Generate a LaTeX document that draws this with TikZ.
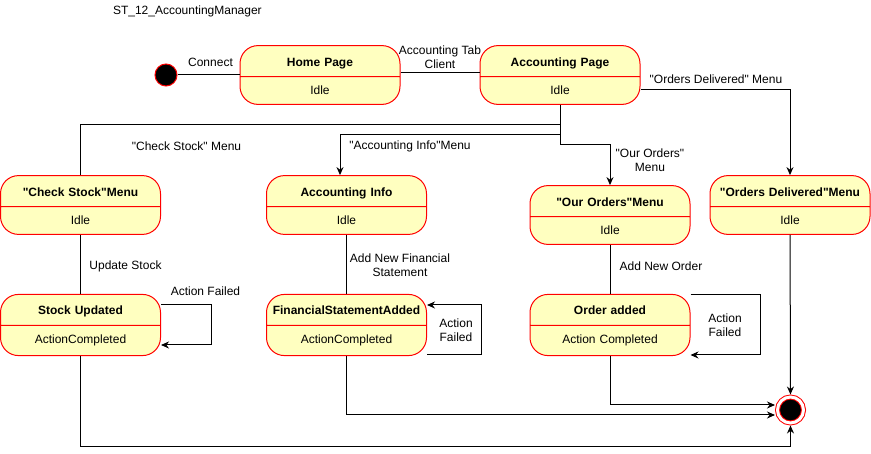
\documentclass[tikz,border=0pt]{standalone}
\usepackage{fontspec}
\setmainfont{Liberation Sans}
\usetikzlibrary{shapes.multipart,arrows.meta,positioning}
\definecolor{statefill}{HTML}{FFFFC0}
\newcommand{\dquote}{\textquotedbl}

\begin{document}
\begin{tikzpicture}[x=1pt, y=-1pt, line width=1pt, >={Stealth[length=8pt,width=7pt]},
    every node/.append style={font=\fontsize{12}{14}\selectfont},
    state/.style={rectangle split, rectangle split parts=2, draw=red, fill=statefill,
      rounded corners=18pt, text width=150pt, align=center, inner xsep=5pt,
      inner ysep=9pt, text height=11pt, text depth=1pt},
    lbl/.style={align=center, inner sep=0pt},
    init/.style={circle, draw=red, fill=black, minimum size=22pt, inner sep=0pt},
    final/.style={circle, draw=red, fill=black, minimum size=26pt, inner sep=0pt,
      double=white, double distance=3pt, outer sep=2.5pt}]
    \useasboundingbox (0,0) rectangle (871,454);

    % states
    \node[init] (start) at (166,75) {};
    \node[state] (home) at (320,75) {\textbf{Home Page}\nodepart{two}Idle};
    \node[state] (account) at (560,75) {\textbf{Accounting Page}\nodepart{two}Idle};
    \node[state] (stockmenu) at (80.5,205) {\textbf{\dquote Check Stock\dquote Menu}\nodepart{two}Idle};
    \node[state] (accinfo) at (346.5,205) {\textbf{Accounting Info}\nodepart{two}Idle};
    \node[state] (ordersmenu) at (610,215) {\textbf{\dquote Our Orders\dquote Menu}\nodepart{two}Idle};
    \node[state] (delivered) at (790,205) {\textbf{\dquote Orders Delivered\dquote Menu}\nodepart{two}Idle};
    \node[state] (stockdone) at (80.5,325) {\textbf{Stock Updated}\nodepart{two}ActionCompleted};
    \node[state] (statement) at (346.5,325) {\textbf{FinancialStatementAdded}\nodepart{two}ActionCompleted};
    \node[state] (orderdone) at (610,325) {\textbf{Order added}\nodepart{two}Action Completed};
    \node[final] (end) at (790.5,410) {};

    % labels
    \node[lbl, anchor=west] (title) at (112.5,11) {ST\_12\_AccountingManager};
    \node[lbl] (lconnect) at (210.5,62) {Connect};
    \node[lbl] (ltab) at (440,57) {Accounting Tab\\Client};
    \node[lbl] (ldelivered) at (716,79) {\dquote Orders Delivered\dquote{} Menu};
    \node[lbl] (lstock) at (186.5,146) {\dquote Check Stock\dquote{} Menu};
    \node[lbl] (linfo) at (410,146) {\dquote Accounting Info\dquote Menu};
    \node[lbl] (lorders) at (650,160) {\dquote Our Orders\dquote\\Menu};
    \node[lbl] (lupdate) at (125.5,266) {Update Stock};
    \node[lbl] (lnewfin) at (400,265) {Add New Financial\\Statement};
    \node[lbl] (lfail1) at (205.5,291) {Action Failed};
    \node[lbl] (lfail2) at (456,330) {Action\\Failed};
    \node[lbl] (lneworder) at (661,266) {Add New Order};
    \node[lbl] (lfail3) at (725,325) {Action\\Failed};

    % transitions
    \draw (start) -- (home);
    \draw ([yshift=2pt]home.east) -- ([yshift=2pt]account.west);
    \draw (account.south) -- ++(0,20) -| (stockmenu.north);
    \draw[->] (account.south) -- ++(0,30) -| ([xshift=-6.5pt]accinfo.north);
    \draw[->] (account.south) -- ++(0,40) -| (ordersmenu.north);
    \draw[->] ([yshift=-15pt]account.east) -| (delivered.north);
    \draw (stockmenu) -- (stockdone);
    \draw[->] ([yshift=20pt]stockdone.east) -- ++(50,0) |- ([yshift=-20pt]stockdone.east);
    \draw (accinfo) -- (statement);
    \draw[->] ([yshift=-30pt]statement.east) -- ++(54,0) |- ([yshift=20pt]statement.east);
    \draw (ordersmenu) -- (orderdone);
    \draw[->] ([yshift=30pt]orderdone.east) -- ++(70,0) |- ([yshift=-30pt]orderdone.east);
    \draw[->] (orderdone.south) |- ([yshift=5pt]end.west);
    \draw[->] (statement.south) |- ([yshift=-5pt]end.west);
    \draw[->] (stockdone.south) -- ++(0,90) -| (end.south);
    \draw[->] (delivered) -- (end);
\end{tikzpicture}
\end{document}
